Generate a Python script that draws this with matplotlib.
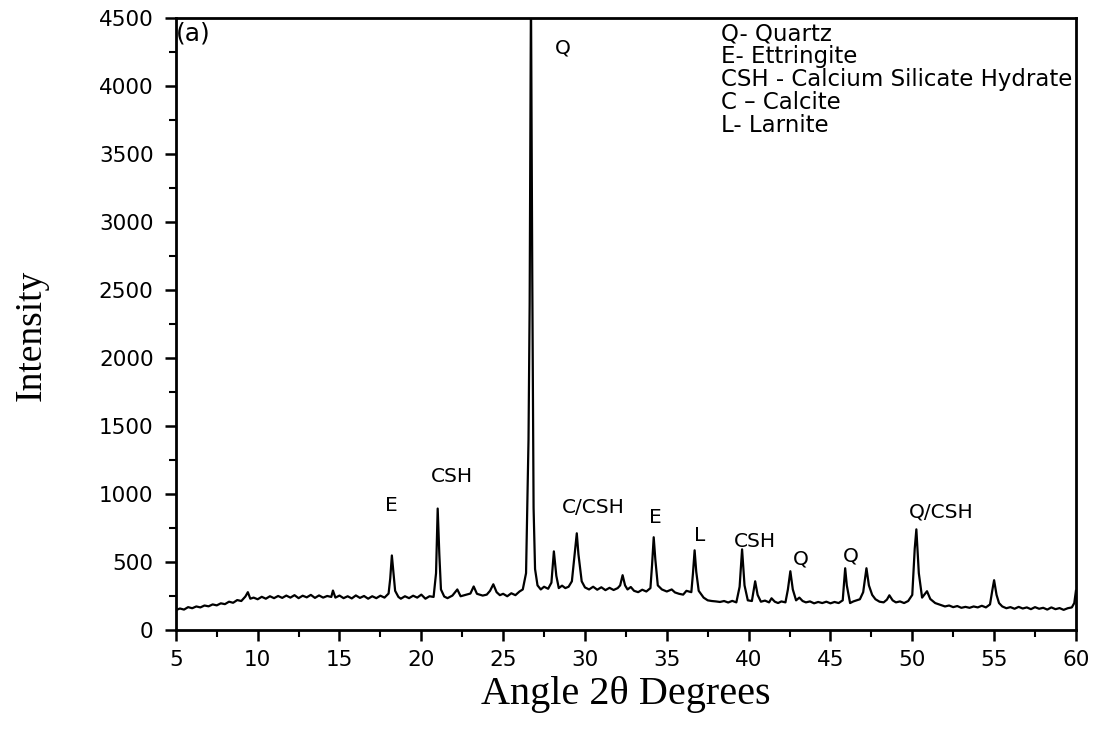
import matplotlib
matplotlib.use("Agg")
import matplotlib.pyplot as plt
from matplotlib.ticker import MultipleLocator

# ---- data (2theta, intensity) ----
two_theta = [
    5.00, 5.25, 5.50, 5.75, 6.00, 6.25, 6.50, 6.75, 7.00, 7.25, 7.50, 7.75, 8.00, 8.25, 8.50, 8.75,
    9.00, 9.25, 9.40, 9.55, 9.75, 10.00, 10.25, 10.50, 10.75, 11.00, 11.25, 11.50, 11.75, 12.00,
    12.25, 12.50, 12.75, 13.00, 13.25, 13.50, 13.75, 14.00, 14.25, 14.50, 14.60, 14.75, 15.00,
    15.25, 15.50, 15.75, 16.00, 16.25, 16.50, 16.75, 17.00, 17.25, 17.50, 17.75, 18.00, 18.10,
    18.20, 18.30, 18.40, 18.60, 18.75, 19.00, 19.25, 19.50, 19.75, 20.00, 20.25, 20.50, 20.75,
    20.90, 21.00, 21.10, 21.20, 21.40, 21.60, 21.90, 22.20, 22.40, 22.75, 23.00, 23.20, 23.40,
    23.75, 24.00, 24.20, 24.40, 24.60, 24.80, 25.00, 25.25, 25.50, 25.75, 26.00, 26.20, 26.40,
    26.55, 26.62, 26.70, 26.78, 26.86, 26.95, 27.10, 27.30, 27.50, 27.75, 27.95, 28.10, 28.25,
    28.40, 28.60, 28.80, 29.00, 29.20, 29.40, 29.50, 29.60, 29.80, 30.00, 30.25, 30.50, 30.75,
    31.00, 31.25, 31.50, 31.75, 32.00, 32.15, 32.30, 32.45, 32.60, 32.80, 33.00, 33.25, 33.50,
    33.75, 34.00, 34.10, 34.20, 34.30, 34.45, 34.70, 35.00, 35.30, 35.50, 35.75, 36.00, 36.20,
    36.50, 36.60, 36.70, 36.80, 36.95, 37.25, 37.50, 37.75, 38.00, 38.25, 38.50, 38.75, 39.00,
    39.25, 39.45, 39.60, 39.75, 39.95, 40.20, 40.40, 40.55, 40.75, 41.00, 41.25, 41.40, 41.60,
    41.80, 42.00, 42.25, 42.40, 42.55, 42.70, 42.90, 43.10, 43.30, 43.50, 43.75, 44.00, 44.25,
    44.50, 44.75, 45.00, 45.25, 45.50, 45.75, 45.90, 46.00, 46.20, 46.40, 46.60, 46.80, 47.00,
    47.20, 47.35, 47.55, 47.75, 48.00, 48.25, 48.45, 48.60, 48.80, 49.00, 49.25, 49.50, 49.75,
    50.00, 50.15, 50.25, 50.40, 50.60, 50.90, 51.10, 51.40, 51.75, 52.00, 52.25, 52.50, 52.75,
    53.00, 53.25, 53.50, 53.75, 54.00, 54.25, 54.50, 54.75, 54.90, 55.00, 55.15, 55.30, 55.50,
    55.75, 56.00, 56.25, 56.50, 56.75, 57.00, 57.25, 57.50, 57.75, 58.00, 58.25, 58.50, 58.75,
    59.00, 59.25, 59.50, 59.75, 59.90, 60.00,
]
intensity = [
    148, 160, 152, 170, 162, 175, 168, 182, 176, 190, 183, 198, 192, 210, 202, 222,
    215, 248, 280, 232, 240, 228, 246, 232, 250, 236, 252, 238, 255, 240,
    258, 236, 254, 242, 260, 238, 256, 240, 252, 245, 292, 240, 255,
    236, 250, 234, 256, 238, 252, 232, 250, 236, 254, 240, 270, 380,
    550, 420, 290, 245, 232, 250, 236, 254, 240, 262, 232, 250, 245,
    420, 895, 560, 300, 248, 236, 255, 300, 250, 262, 270, 322, 268,
    255, 262, 290, 338, 280, 258, 268, 250, 272, 258, 285, 300, 420,
    1400, 2400, 4700, 2600, 900, 450, 330, 300, 320, 305, 350, 580, 400,
    310, 328, 310, 320, 360, 600, 713, 560, 360, 315, 300, 320, 298,
    316, 295, 312, 296, 310, 330, 405, 330, 300, 318, 290, 280, 298,
    285, 310, 480, 684, 520, 330, 300, 285, 300, 278, 268, 262, 290,
    280, 420, 588, 430, 290, 240, 220, 215, 212, 208, 215, 204, 216,
    205, 320, 595, 330, 220, 215, 360, 260, 210, 218, 205, 235, 210,
    200, 212, 205, 300, 434, 300, 220, 240, 215, 205, 212, 198, 208,
    200, 210, 198, 208, 200, 220, 456, 330, 200, 212, 220, 228, 280,
    456, 330, 260, 228, 210, 205, 225, 257, 220, 205, 212, 200, 215,
    260, 600, 742, 420, 240, 287, 230, 200, 185, 175, 182, 170, 178,
    165, 172, 165, 175, 168, 180, 168, 190, 300, 368, 260, 200, 175,
    162, 170, 158, 172, 160, 168, 155, 170, 158, 165, 152, 168, 155,
    163, 150, 162, 168, 200, 290,
]

peak_labels = ["E", "CSH", "Q", "C/CSH", "E", "L", "CSH", "Q", "Q", "Q/CSH"]
label_x = [18.15, 21.9, 28.65, 30.5, 34.3, 37.0, 40.4, 43.2, 46.26, 51.76]
label_y = [919, 1132, 4285, 904, 830, 698, 654, 522, 544, 867]

legend_lines = ["Q- Quartz", "E- Ettringite", "CSH - Calcium Silicate Hydrate",
                "C \u2013 Calcite", "L- Larnite"]

SANS = "DejaVu Sans"
SERIF = "Liberation Serif"

fig = plt.figure(figsize=(10.99, 7.32), dpi=100)
ax = fig.add_axes([0.160, 0.139, 0.819, 0.836])

ax.plot(two_theta, intensity, color="black", linewidth=1.6)

ax.set_xlim(5, 60)
ax.set_ylim(0, 4500)
ax.xaxis.set_major_locator(MultipleLocator(5))
ax.xaxis.set_minor_locator(MultipleLocator(2.5))
ax.yaxis.set_major_locator(MultipleLocator(500))
ax.yaxis.set_minor_locator(MultipleLocator(250))

for s in ax.spines.values():
    s.set_linewidth(2.0)
ax.tick_params(which="major", direction="out", length=8, width=1.8, labelsize=15.5)
ax.tick_params(which="minor", direction="out", length=5, width=1.5)
ax.tick_params(axis="x", which="major", pad=6)
ax.tick_params(axis="y", which="major", pad=8)
ax.tick_params(top=False, right=False)
for lab in ax.get_xticklabels() + ax.get_yticklabels():
    lab.set_family(SANS)

ax.set_xlabel("Angle 2\u03b8 Degrees", family=SERIF, fontsize=29)
ax.xaxis.set_label_coords(0.5, -0.105)
ax.xaxis.label.set_va("center")
ax.set_ylabel("Intensity", family=SERIF, fontsize=27)
ax.yaxis.set_label_coords(-0.161, 0.482)
ax.yaxis.label.set_va("center")

for t, x, y in zip(peak_labels, label_x, label_y):
    ax.text(x, y, t, ha="center", va="center", fontsize=14.5, family=SANS)

ax.text(5.0, 4480, "(a)", ha="left", va="top", fontsize=18, family=SANS)

for i, line in enumerate(legend_lines):
    ax.text(0.606, 0.975 - i * 0.0376, line, transform=ax.transAxes, ha="left", va="center",
            fontsize=16.5, family=SANS)

fig.savefig("out.png", dpi=100)
